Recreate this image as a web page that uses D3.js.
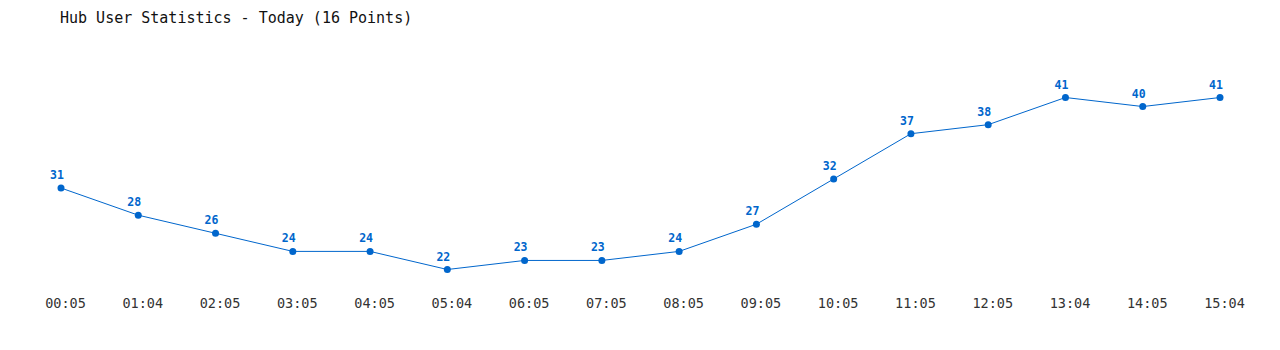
<!DOCTYPE html>
<html>
<head>
<meta charset="utf-8">
<script src="https://cdn.jsdelivr.net/npm/d3@7.9.0/dist/d3.min.js"></script>
<style>
  body { margin: 0; background: #fff; }
  svg text { font-family: "DejaVu Sans Mono", "Liberation Mono", monospace; }
</style>
</head>
<body>
<svg id="chart" width="1280" height="350"></svg>
<script>
const times = ['00:05', '01:04', '02:05', '03:05', '04:05', '05:04', '06:05', '07:05',
  '08:05', '09:05', '10:05', '11:05', '12:05', '13:04', '14:05', '15:04'];
const users = [31, 28, 26, 24, 24, 22, 23, 23, 24, 27, 32, 37, 38, 41, 40, 41];

const svg = d3.select('#chart');

svg.append('text')
  .attr('x', 60)
  .attr('y', 23)
  .attr('font-size', 15)
  .attr('fill', '#111')
  .text('Hub User Statistics - Today (16 Points)');

const x = d3.scalePoint().domain(times).range([61, 1220]);
const y = d3.scaleLinear().domain([22, 41]).range([269.5, 97.5]);

const blue = '#0066cc';

const line = d3.line()
  .x((d, i) => x(times[i]))
  .y(d => y(d));

svg.append('path')
  .datum(users)
  .attr('d', line)
  .attr('fill', 'none')
  .attr('stroke', blue)
  .attr('stroke-width', 1);

svg.selectAll('circle.pt')
  .data(users)
  .join('circle')
  .attr('class', 'pt')
  .attr('cx', (d, i) => x(times[i]))
  .attr('cy', d => y(d))
  .attr('r', 3.5)
  .attr('fill', blue);

// value labels sit a little left of their points
svg.selectAll('text.val')
  .data(users)
  .join('text')
  .attr('class', 'val')
  .attr('x', (d, i) => x(times[i]) - 4)
  .attr('y', d => y(d) - 9)
  .attr('text-anchor', 'middle')
  .attr('font-size', 11.5)
  .attr('font-weight', 'bold')
  .attr('fill', blue)
  .text(d => d);

// time labels sit a little right of their points
const axis = d3.axisBottom(x).tickSize(0).tickPadding(0);
const g = svg.append('g')
  .attr('transform', 'translate(4,298)')
  .call(axis);
g.select('.domain').remove();
g.selectAll('text')
  .attr('font-size', 13.5)
  .attr('fill', '#333')
  .attr('dy', '0.72em');
</script>
</body>
</html>
